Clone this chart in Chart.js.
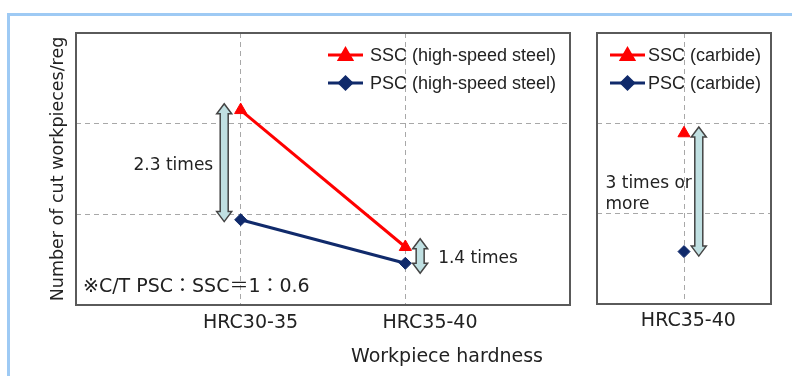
<!DOCTYPE html>
<html><head><meta charset="utf-8">
<script src="https://cdn.jsdelivr.net/npm/chart.js@4"></script>
<style>
html,body{margin:0;padding:0;background:#fff;}
body{width:792px;height:376px;overflow:hidden;position:relative;font-family:"DejaVu Sans","Noto Sans CJK JP",sans-serif;color:#222;}
#frame{position:absolute;left:7px;top:13px;width:785px;height:363px;border-top:3px solid #9ecaf4;border-left:3px solid #9ecaf4;}
#c1{position:absolute;left:0;top:0;}
#c2{position:absolute;left:580px;top:0;}
#xt{position:absolute;left:297px;width:300px;top:344px;text-align:center;font-size:19px;color:#222;}
</style></head>
<body>
<div id="frame"></div>
<canvas id="c1" width="580" height="376"></canvas>
<canvas id="c2" width="212" height="376"></canvas>
<div id="xt">Workpiece hardness</div>
<script>
// ---- data ----
const categories = ['HRC30-35', 'HRC35-40'];
const sscHSS = [2.15, 0.64];
const pscHSS = [0.94, 0.46];
const carbideCategories = ['HRC35-40'];
const sscCarbide = [1.89];
const pscCarbide = [0.58];
const yTicks = [0, 1, 2, 3];
const seriesHSS = ['SSC (high-speed steel)', 'PSC (high-speed steel)'];
const seriesCarbide = ['SSC (carbide)', 'PSC (carbide)'];
const ratioHSS = [{x: 0.9, from: 0.92, to: 2.22, label: ['2.3 times']}, {x: 2.09, from: 0.35, to: 0.73, label: ['1.4 times']}];
const ratioCarbide = [{x: 1.17, from: 0.53, to: 1.96, label: ['3 times or', 'more']}];
const noteText = '※C/T PSC：SSC＝1：0.6';
const yTitle = 'Number of cut workpieces/reg';

const RED = '#ff0000', NAVY = '#102a6b', FONT = '"DejaVu Sans","Noto Sans CJK JP",sans-serif', TXT = '#222';
const LFONT = '"Liberation Sans","Noto Sans CJK JP",sans-serif';

function pts(vals) { return vals.map((v, i) => ({x: i + 1, y: v})); }

function drawArrow(ctx, x, yTop, yBot) {
  const sw = 4, hw = 7.5, hl = 10;
  ctx.save();
  ctx.beginPath();
  ctx.moveTo(x, yTop);
  ctx.lineTo(x + hw, yTop + hl); ctx.lineTo(x + sw, yTop + hl);
  ctx.lineTo(x + sw, yBot - hl); ctx.lineTo(x + hw, yBot - hl);
  ctx.lineTo(x, yBot);
  ctx.lineTo(x - hw, yBot - hl); ctx.lineTo(x - sw, yBot - hl);
  ctx.lineTo(x - sw, yTop + hl); ctx.lineTo(x - hw, yTop + hl);
  ctx.closePath();
  ctx.fillStyle = '#c0e0e2'; ctx.fill();
  ctx.strokeStyle = '#444'; ctx.lineWidth = 1.5; ctx.stroke();
  ctx.restore();
}

function drawMarker(ctx, style, x, y) {
  Chart.helpers.drawPoint(ctx, {pointStyle: style, radius: style === 'triangle' ? 7 : 6, rotation: 0, borderWidth: 1}, x, y);
}

function legendDraw(ctx, labels, x0, y0, gap) {
  const cfg = [[RED, 'triangle'], [NAVY, 'rectRot']];
  labels.forEach((lab, i) => {
    const y = y0 + i * 28;
    ctx.save();
    ctx.strokeStyle = cfg[i][0]; ctx.fillStyle = cfg[i][0]; ctx.lineWidth = 3;
    ctx.beginPath(); ctx.moveTo(x0, y); ctx.lineTo(x0 + 35, y); ctx.stroke();
    drawMarker(ctx, cfg[i][1], x0 + 17.5, y + (cfg[i][1] === 'triangle' ? 1 : 0));
    ctx.fillStyle = TXT; ctx.font = '18px ' + LFONT; ctx.textBaseline = 'middle'; ctx.textAlign = 'left';
    ctx.fillText(lab, x0 + 35 + gap, y + 1);
    ctx.restore();
  });
}

function boxDraw(chart) {
  const a = chart.chartArea, ctx = chart.ctx;
  ctx.save(); ctx.strokeStyle = '#5a5a5a'; ctx.lineWidth = 2;
  ctx.strokeRect(a.left, a.top, a.right - a.left, a.bottom - a.top);
  ctx.restore();
}

function makeOverlay(legendLabels, legendPos, legendGap, ratios, labelSide, labelAlignLeft, note) {
  return {
    id: 'overlay',
    afterDatasetsDraw(chart) {
      const ctx = chart.ctx, xs = chart.scales.x, ys = chart.scales.y, a = chart.chartArea;
      ratios.forEach((r, i) => {
        const x = xs.getPixelForValue(r.x), yt = ys.getPixelForValue(r.to), yb = ys.getPixelForValue(r.from);
        drawArrow(ctx, x, yt, yb);
        ctx.save(); ctx.fillStyle = TXT; ctx.font = '17px ' + FONT; ctx.textBaseline = 'middle';
        const mid = (yt + yb) / 2;
        const side = labelSide[i];
        let tx = x + side;
        if (side < 0 && labelAlignLeft) {
          const w = Math.max(...r.label.map(t => ctx.measureText(t).width));
          tx = tx - w; ctx.textAlign = 'left';
        } else {
          ctx.textAlign = side < 0 ? 'right' : 'left';
        }
        const n = r.label.length;
        r.label.forEach((t, k) => ctx.fillText(t, tx, mid + (k - (n - 1) / 2) * 21 + 3));
        ctx.restore();
      });
      if (note) {
        ctx.save(); ctx.fillStyle = TXT; ctx.font = '19px ' + FONT; ctx.textBaseline = 'middle'; ctx.textAlign = 'left';
        ctx.fillText(note, a.left + 7, a.bottom - 18);
        ctx.restore();
      }
    },
    afterDraw(chart) {
      boxDraw(chart);
      const a = chart.chartArea, p = legendPos(a);
      legendDraw(chart.ctx, legendLabels, p.x, p.y, legendGap);
    }
  };
}

function gridColor(vals) {
  return (c) => (c.tick && vals.includes(c.tick.value)) ? '#a8a8a8' : 'rgba(0,0,0,0)';
}

// labelShift: horizontal shift (in category units) of each category label relative to its grid line
function baseOptions(xMax, xLabels, labelShift, xHeight, yWidth, pad, tickPad, showTitle) {
  return {
    responsive: false, animation: false,
    layout: {padding: pad},
    plugins: {legend: {display: false}, tooltip: {enabled: false}},
    scales: {
      x: {
        type: 'linear', min: 0, max: xMax, position: 'bottom', weight: 0,
        afterBuildTicks: (s) => { s.ticks = xLabels.map((_, i) => ({value: i + 1 + labelShift[i]})); },
        afterFit: (s) => { s.height = xHeight; },
        ticks: {autoSkip: false, maxRotation: 0, padding: tickPad, color: TXT, font: {family: FONT, size: 19},
          callback: (v, i) => xLabels[i] || ''},
        grid: {display: false},
        border: {display: false}
      },
      xg: {
        type: 'linear', min: 0, max: xMax, position: 'bottom', weight: 5,
        afterBuildTicks: (s) => { s.ticks = Array.from({length: xMax + 1}, (_, i) => ({value: i})); },
        afterFit: (s) => { s.height = 0; },
        ticks: {display: false},
        grid: {drawTicks: false, color: gridColor(xLabels.map((_, i) => i + 1)), lineWidth: 1},
        border: {display: false, dash: [5, 4]}
      },
      y: {
        type: 'linear', min: yTicks[0], max: yTicks[yTicks.length - 1],
        afterBuildTicks: (s) => { s.ticks = yTicks.map(v => ({value: v})); },
        afterFit: (s) => { s.width = yWidth; },
        ticks: {display: false},
        grid: {drawTicks: false, color: gridColor(yTicks.slice(1, -1)), lineWidth: 1},
        border: {display: false, dash: [5, 4]},
        title: {display: showTitle, text: yTitle, color: TXT, font: {family: FONT, size: 17.5, lineHeight: 1.2}, padding: {top: 47.5, bottom: 0}}
      }
    }
  };
}

function ds(label, vals, color, style) {
  return {label, data: pts(vals), borderColor: color, backgroundColor: color, borderWidth: 3,
    pointStyle: style, pointRadius: style === 'triangle' ? 7 : 6, pointBorderWidth: 1, tension: 0, clip: false};
}

new Chart(document.getElementById('c1'), {
  type: 'line',
  data: {datasets: [ds(seriesHSS[0], sscHSS, RED, 'triangle'), ds(seriesHSS[1], pscHSS, NAVY, 'rectRot')]},
  options: baseOptions(3, categories, [0.06, 0.15], 71, 76, {top: 33, right: 10, left: 0, bottom: 0}, -1, true),
  plugins: [makeOverlay(seriesHSS, (a) => ({x: a.right - 242, y: a.top + 22}), 7, ratioHSS, [-11, 18], false, noteText)]
});

new Chart(document.getElementById('c2'), {
  type: 'line',
  data: {datasets: [ds(seriesCarbide[0], sscCarbide, RED, 'triangle'), ds(seriesCarbide[1], pscCarbide, NAVY, 'rectRot')]},
  options: baseOptions(2, carbideCategories, [0.05], 72, 0, {top: 33, right: 21, left: 17, bottom: 0}, -2, false),
  plugins: [makeOverlay(seriesCarbide, (a) => ({x: a.left + 13, y: a.top + 22}), 3, ratioCarbide, [-7], true, null)]
});
</script>
</body></html>
